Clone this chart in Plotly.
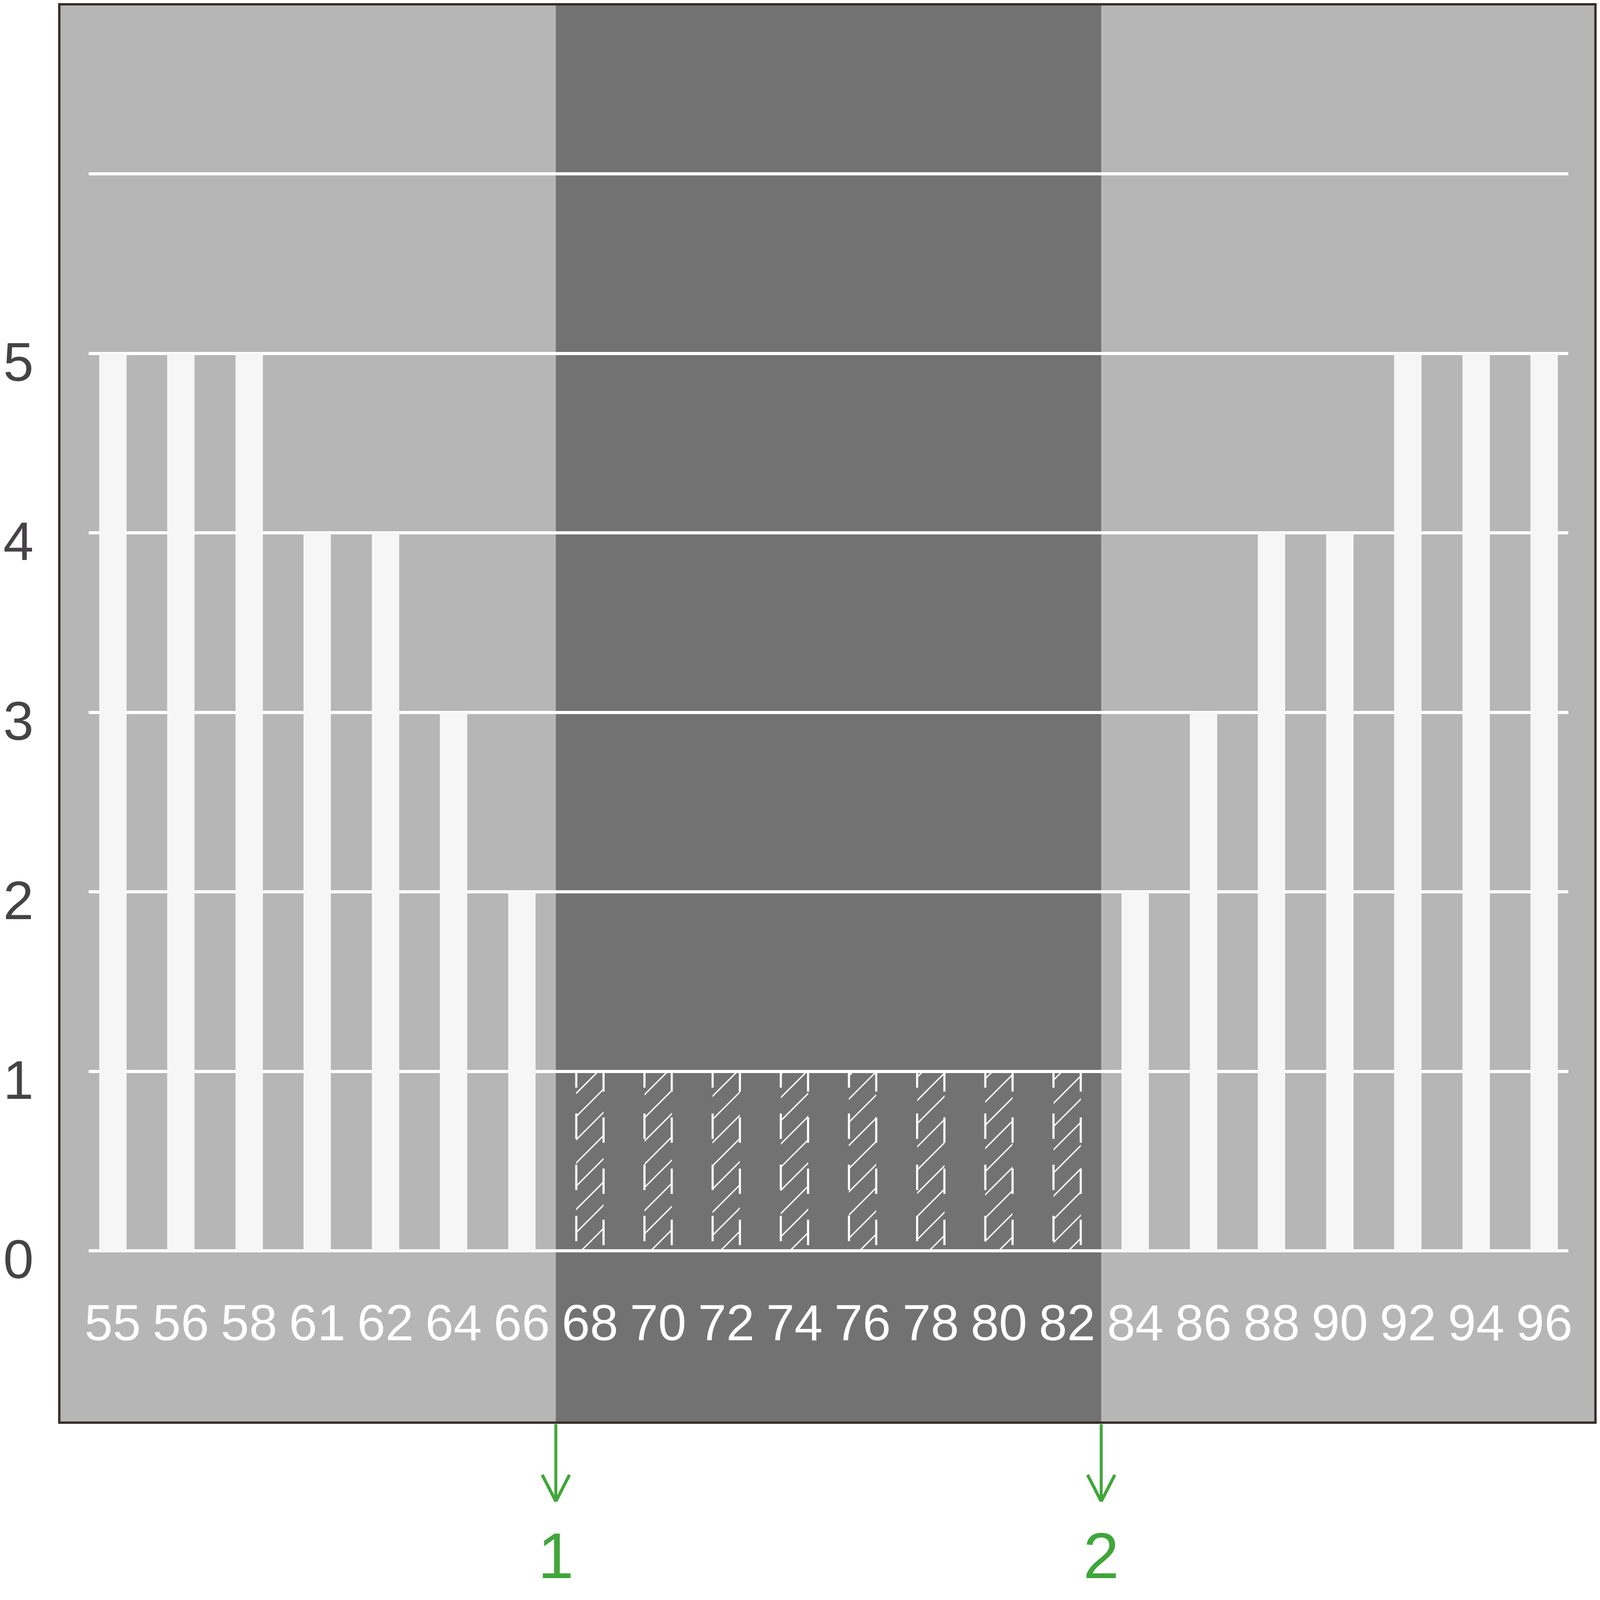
import plotly.graph_objects as go

# dados do grafico
categorias = ['55', '56', '58', '61', '62', '64', '66', '68', '70', '72', '74',
              '76', '78', '80', '82', '84', '86', '88', '90', '92', '94', '96']
valores = [5, 5, 5, 4, 4, 3, 2, 1, 1, 1, 1, 1, 1, 1, 1, 2, 3, 4, 4, 5, 5, 5]
hachurado = [False, False, False, False, False, False, False,
             True, True, True, True, True, True, True, True,
             False, False, False, False, False, False, False]
y_ticks = [0, 1, 2, 3, 4, 5, 6]
y_labels = ['0', '1', '2', '3', '4', '5', '']
faixa = [6.5, 14.5]      # limites da faixa escura, entre categorias
setas = ['1', '2']       # rotulos das setas verdes

# tamanho da figura (a janela real tem 4096x4096, corpo com margem de 8px)
FW, FH = 4080, 4080
ESQ, DIR = 171.2, 4006.7          # dominio do eixo x, em px da figura
BASE = 3634.4                     # base da area do grafico
LARG = DIR - ESQ


def px(p):
    return (p - ESQ) / LARG


def py(p):
    return 1 - p / BASE


CLARO = '#b5b6b5'
ESCURO = '#727272'
BARRA = '#f5f6f5'
VERDE = '#40a63a'
BORDA = '#382d2b'
FONTE = 'Liberation Sans, Arial, sans-serif'

x_sol = [c for c, h in zip(categorias, hachurado) if not h]
y_sol = [v for v, h in zip(valores, hachurado) if not h]
x_hach = [c for c, h in zip(categorias, hachurado) if h]
y_hach = [v for v, h in zip(valores, hachurado) if h]

fig = go.Figure()
fig.add_trace(go.Bar(x=x_sol, y=y_sol, width=0.4,
                     marker=dict(color=BARRA, line=dict(width=0))))
fig.add_trace(go.Bar(x=x_hach, y=y_hach, width=0.4,
                     marker=dict(color='rgba(0,0,0,0)', line=dict(width=0),
                                 pattern=dict(shape='/', fgcolor='white', fgopacity=1,
                                              bgcolor='rgba(0,0,0,0)', size=42,
                                              solidity=0.08))))

shapes = [
    # fundo cinza claro do quadro
    dict(type='rect', xref='paper', yref='paper', x0=px(95), x1=px(4077),
         y0=py(BASE), y1=py(3), fillcolor=CLARO, line=dict(width=0), layer='below'),
    # faixa escura
    dict(type='rect', xref='x', yref='paper', x0=faixa[0], x1=faixa[1],
         y0=py(BASE - 3), y1=py(6), fillcolor=ESCURO, line=dict(width=0), layer='below'),
    # borda do quadro
    dict(type='rect', xref='paper', yref='paper', x0=px(95), x1=px(4077),
         y0=py(BASE), y1=py(3), line=dict(color=BORDA, width=6), layer='above'),
]

# contorno tracejado das barras hachuradas
for i, (h, v) in enumerate(zip(hachurado, valores)):
    if not h:
        continue
    for lado, ini in ((-0.2, 0.054), (0.2, 0.032)):
        shapes.append(dict(type='line', xref='x', yref='y', x0=i + lado, x1=i + lado,
                           y0=ini, y1=v, line=dict(color='white', width=5.5, dash='65px,66px'),
                           layer='above'))

# setas verdes
annotations = []
for borda, rotulo in zip(faixa, setas):
    shapes.append(dict(type='line', xref='x', yref='paper', x0=borda, x1=borda,
                       y0=py(BASE + 4), y1=py(3834), line=dict(color=VERDE, width=7.5)))
    for d in (-0.2, 0.2):
        shapes.append(dict(type='line', xref='x', yref='paper', x0=borda + d, x1=borda,
                           y0=py(3768), y1=py(3836), line=dict(color=VERDE, width=8)))
    annotations.append(dict(x=borda, xref='x', y=py(3975), yref='paper', text=rotulo,
                            showarrow=False, yanchor='middle',
                            font=dict(family=FONTE, size=165, color=VERDE)))

fig.update_layout(
    width=FW, height=FH,
    margin=dict(l=ESQ, r=FW - DIR, t=0, b=FH - BASE, pad=0),
    paper_bgcolor='white', plot_bgcolor='rgba(0,0,0,0)',
    showlegend=False, bargap=0, barmode='overlay',
    shapes=shapes, annotations=annotations,
    xaxis=dict(type='category', categoryorder='array', categoryarray=categorias,
               tickmode='array', tickvals=categorias, ticktext=categorias,
               range=[-0.353, 21.353], anchor='free', position=py(3292),
               showgrid=False, zeroline=False, showline=False, ticks='',
               tickfont=dict(family=FONTE, size=130, color='white')),
    yaxis=dict(range=[-0.957, 6.951], tickvals=y_ticks, ticktext=y_labels,
               showgrid=True, gridcolor='white', gridwidth=8, zeroline=False,
               showline=False, ticks='', ticklabelstandoff=140, ticklabelshift=21,
               tickfont=dict(family=FONTE, size=140, color='#454345')),
)

fig.write_html("out.html")
